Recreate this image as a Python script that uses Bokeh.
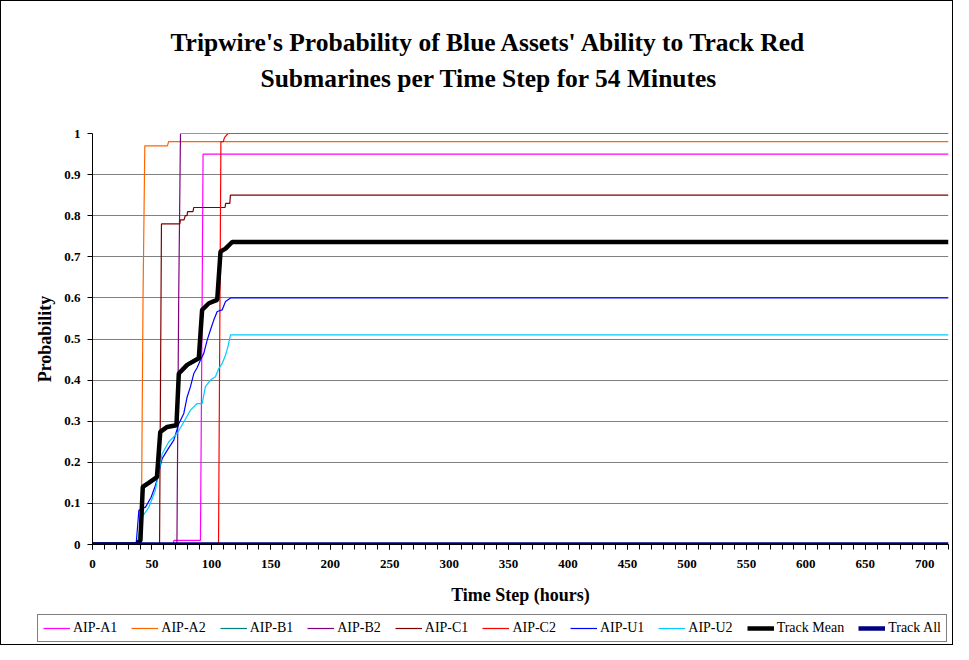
from bokeh.plotting import figure
from bokeh.models import Range1d, FixedTicker, Legend, LegendItem, Title
from bokeh.layouts import column
from bokeh.embed import file_html
from bokeh.resources import INLINE

# ---- data (breakpoints) ----
a1_x = [0, 67.8, 68.5, 90.8, 92.0, 93.0, 720]
a1_y = [0, 0, 0.01, 0.01, 0.5, 0.95, 0.95]

a2_x = [0, 41.0, 42.5, 44.0, 63.0, 64.0, 720]
a2_y = [0, 0, 0.6, 0.97, 0.97, 0.98, 0.98]

b1_x = [0, 720]
b1_y = [0, 0]

b2_x = [0, 71.0, 72.5, 74.0, 720]
b2_y = [0, 0, 0.6, 1.0, 1.0]

c1_x = [0, 56.4, 58.0, 73.4, 74.0, 77.0, 78.0, 79.5, 80.0, 84.5, 85.2, 111.5, 112.0, 115.5, 116.0, 720]
c1_y = [0, 0, 0.78, 0.78, 0.79, 0.79, 0.80, 0.80, 0.81, 0.81, 0.82, 0.82, 0.83, 0.83, 0.85, 0.85]

c2_x = [0, 106.0, 108.0, 110.0, 111.0, 114.0, 720]
c2_y = [0, 0, 0.98, 0.98, 0.99, 1.0, 1.0]

u1_x = [0, 36.7, 39.0, 44.6, 49.3, 53.0, 58.6, 62.8, 68.4, 72.6, 76.8, 79.6, 82.4, 85.2, 88.0, 90.8, 93.6, 96.5, 99.2, 102.0, 104.9, 109.1, 111.9, 116.1, 720]
u1_y = [0, 0, 0.083, 0.091, 0.115, 0.144, 0.209, 0.229, 0.254, 0.294, 0.319, 0.359, 0.384, 0.416, 0.43, 0.449, 0.465, 0.498, 0.522, 0.546, 0.567, 0.571, 0.591, 0.60, 0.60]

u2_x = [0, 37.5, 41.7, 47.3, 52.9, 58.6, 64.2, 71.2, 76.8, 82.4, 88.0, 92.2, 95.0, 99.2, 103.4, 106.2, 109.0, 111.9, 113.9, 116.1, 720]
u2_y = [0, 0, 0.067, 0.09, 0.132, 0.221, 0.25, 0.27, 0.298, 0.327, 0.343, 0.343, 0.384, 0.40, 0.408, 0.428, 0.44, 0.461, 0.481, 0.51, 0.51]

mean_x = [0, 36.7, 40.3, 42.3, 47.3, 54.2, 57.0, 62.8, 70.6, 72.6, 79.6, 89.4, 92.2, 97.9, 104.9, 107.7, 111.9, 117.5, 720]
mean_y = [0, 0, 0.01, 0.14, 0.15, 0.164, 0.274, 0.286, 0.29, 0.416, 0.437, 0.453, 0.571, 0.587, 0.595, 0.713, 0.72, 0.736, 0.736]

all_x = [0, 720]
all_y = [0, 0]

x_ticks = list(range(0, 721, 50))
x_minor = list(range(0, 721, 10))
y_ticks = [0, 0.1, 0.2, 0.3, 0.4, 0.5, 0.6, 0.7, 0.8, 0.9, 1.0]
y_labels = ["0", "0.1", "0.2", "0.3", "0.4", "0.5", "0.6", "0.7", "0.8", "0.9", "1"]

title_lines = ["Tripwire's Probability of Blue Assets' Ability to Track Red",
               "Submarines per Time Step for 54 Minutes"]

series = [
    ("AIP-A1", a1_x, a1_y, "#FF00FF", 1.2),
    ("AIP-A2", a2_x, a2_y, "#FF6600", 1.2),
    ("AIP-B1", b1_x, b1_y, "#008080", 1.2),
    ("AIP-B2", b2_x, b2_y, "#800080", 1.2),
    ("AIP-C1", c1_x, c1_y, "#800000", 1.2),
    ("AIP-C2", c2_x, c2_y, "#FF0000", 1.2),
    ("AIP-U1", u1_x, u1_y, "#0000FF", 1.2),
    ("AIP-U2", u2_x, u2_y, "#00CCFF", 1.2),
    ("Track Mean", mean_x, mean_y, "#000000", 4.5),
    ("Track All", all_x, all_y, "#000080", 4.5),
]

FONT = "Liberation Serif"

p = figure(width=953, height=609, output_backend="svg", toolbar_location=None,
           x_range=Range1d(0, 720), y_range=Range1d(0, 1))
p.frame_align = False
p.min_border_left = 91
p.min_border_right = 6
p.min_border_top = 132
p.min_border_bottom = 66
p.styles = {"border-top": "1px solid black", "border-left": "1px solid black",
            "border-right": "1px solid black", "box-sizing": "border-box"}

# p.title is outermost; later-added titles sit farther from the frame:
# spacer (next to frame), then second line, then first line (p.title)
p.title = Title(text=title_lines[0], align="left", text_font=FONT,
                text_font_size="25.5px", text_font_style="bold",
                text_color="black", standoff=5, offset=78)
p.add_layout(Title(text=" ", align="left", text_font=FONT,
                   text_font_size="25.5px", standoff=7), "above")
p.add_layout(Title(text=title_lines[1], align="left", text_font=FONT,
                   text_font_size="25.5px", text_font_style="bold",
                   text_color="black", standoff=5, offset=168), "above")

for name, xs, ys, col, w in series:
    p.line(xs, ys, line_color=col, line_width=w)

p.outline_line_color = None
p.xgrid.grid_line_color = None
p.ygrid.grid_line_color = "#808080"
p.ygrid.grid_line_width = 1
p.ygrid.ticker = FixedTicker(ticks=y_ticks)

p.xaxis.ticker = FixedTicker(ticks=x_ticks, minor_ticks=x_minor)
p.yaxis.ticker = FixedTicker(ticks=y_ticks)
p.yaxis.major_label_overrides = {t: l for t, l in zip(y_ticks, y_labels)}
for ax in (p.xaxis, p.yaxis):
    ax.axis_line_color = "black"
    ax.major_tick_line_color = "black"
    ax.major_tick_in = 0
    ax.major_tick_out = 5
    ax.major_label_text_font = FONT
    ax.major_label_text_font_style = "bold"
    ax.major_label_text_font_size = "13px"
    ax.axis_label_text_font = FONT
    ax.axis_label_text_font_style = "bold"
    ax.axis_label_text_font_size = "18px"
    ax.axis_label_text_color = "black"
    ax.major_label_text_color = "black"
p.xaxis.minor_tick_line_color = "black"
p.xaxis.minor_tick_in = 0
p.xaxis.minor_tick_out = 5
p.yaxis.minor_tick_line_color = None
p.xaxis.major_label_standoff = 10
p.yaxis.major_label_standoff = 7
p.xaxis.axis_label = "Time Step (hours)"
p.yaxis.axis_label = "Probability"
p.xaxis.axis_label_standoff = 14
p.yaxis.axis_label_standoff = 6

# ---- legend strip (same series styles, drawn in its own small figure) ----
lf = figure(width=953, height=36, output_backend="svg", toolbar_location=None,
            x_range=Range1d(-1, 1), y_range=Range1d(-1, 1),
            x_axis_location=None, y_axis_location=None)
lf.frame_align = False
lf.min_border = 0
lf.min_border_left = 0
lf.min_border_right = 0
lf.outline_line_color = None
lf.grid.visible = False
lf.styles = {"border-bottom": "1px solid black", "border-left": "1px solid black",
             "border-right": "1px solid black", "box-sizing": "border-box"}
items = []
for name, xs, ys, col, w in series:
    r = lf.line(xs[:1], ys[:1], line_color=col, line_width=w)
    items.append(LegendItem(label=name, renderers=[r]))
legend = Legend(items=items, orientation="horizontal", location=(36, 3),
                label_text_font=FONT, label_text_font_size="14px",
                label_text_color="black",
                glyph_width=27, glyph_height=12, label_standoff=3, spacing=14,
                border_line_color="black", border_line_width=1,
                padding=5, margin=0, background_fill_alpha=1)
lf.add_layout(legend)

layout = column(p, lf, spacing=0)
open("out.html", "w").write(file_html(layout, INLINE))
